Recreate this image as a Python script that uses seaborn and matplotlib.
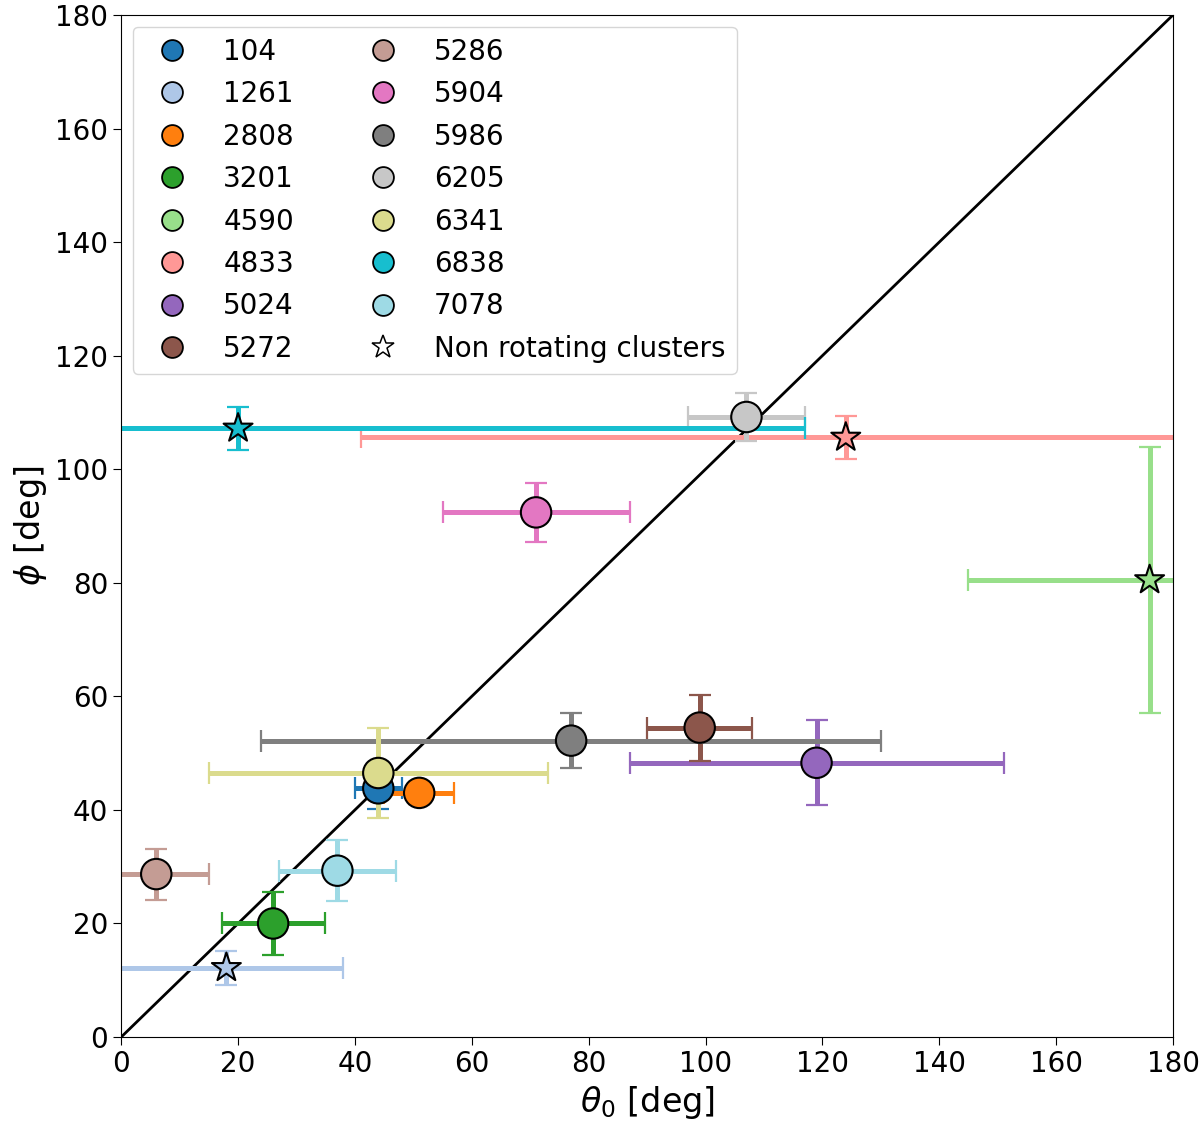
import pandas as pd
import seaborn as sns
import matplotlib.pyplot as plt
from matplotlib.lines import Line2D

names = ["104", "1261", "2808", "3201", "4590", "4833", "5024", "5272",
         "5286", "5904", "5986", "6205", "6341", "6838", "7078"]
theta = [44, 18, 51, 26, 176, 124, 119, 99, 6, 71, 77, 107, 44, 20, 37]
theta_err = [4, 20, 6, 8.8, 31, 83, 32, 9, 9, 16, 53, 10, 29, 97, 10]
phi = [43.8, 12.2, 43, 20, 80.5, 105.6, 48.3, 54.5, 28.7, 92.4, 52.2, 109.2, 46.5, 107.2, 29.3]
phi_err = [3.6, 3, 2, 5.5, 23.4, 3.8, 7.5, 5.8, 4.5, 5.2, 4.8, 4.3, 8, 3.8, 5.4]
non_rotating = ["1261", "4590", "4833", "6838"]

colors = ["#1f77b4", "#aec7e8", "#ff7f0e", "#2ca02c", "#98df8a", "#ff9896",
          "#9467bd", "#8c564b", "#c49c94", "#e377c2", "#7f7f7f", "#c7c7c7",
          "#dbdb8d", "#17becf", "#9edae5"]
palette = dict(zip(names, colors))

df = pd.DataFrame({"cluster": names, "theta": theta, "theta_err": theta_err,
                   "phi": phi, "phi_err": phi_err})
df["kind"] = ["non" if n in non_rotating else "rot" for n in names]

fig = plt.figure(figsize=(12, 11.26), dpi=100)
ax = fig.add_axes([0.101, 0.079, 0.8765, 0.9077])

# one-to-one line
ax.plot([0, 180], [0, 180], color="black", lw=2, zorder=1)

# error bars first, markers on top
for _, r in df.iterrows():
    ax.errorbar(r["theta"], r["phi"], xerr=r["theta_err"], yerr=r["phi_err"],
                fmt="none", ecolor=palette[r["cluster"]], elinewidth=3.6,
                capsize=8, capthick=1.6, zorder=2)

sns.scatterplot(data=df, x="theta", y="phi", hue="cluster", palette=palette,
                style="kind", markers={"rot": "o", "non": "*"}, s=480,
                edgecolor="black", linewidth=1.5, legend=False, zorder=3, ax=ax)

ax.set_xlim(0, 180)
ax.set_ylim(0, 180)
ax.set_xticks(range(0, 181, 20))
ax.set_yticks(range(0, 181, 20))
ax.tick_params(labelsize=20, length=6)
ax.set_xlabel(r"$\theta_0$ [deg]", fontsize=24)
ax.set_ylabel(r"$\phi$ [deg]", fontsize=24)

handles = [Line2D([], [], ls="none", marker="o", markersize=15, markerfacecolor=palette[n],
                  markeredgecolor="black", markeredgewidth=1.3, label=n) for n in names]
handles.append(Line2D([], [], ls="none", marker="*", markersize=17, markerfacecolor="white",
                      markeredgecolor="black", markeredgewidth=1.1, label="Non rotating clusters"))
ax.legend(handles=handles, ncol=2, loc="upper left", fontsize=20, labelspacing=0.52,
          handletextpad=0.85, columnspacing=2.2, borderaxespad=0.42)

fig.savefig("out.png", dpi=100)
